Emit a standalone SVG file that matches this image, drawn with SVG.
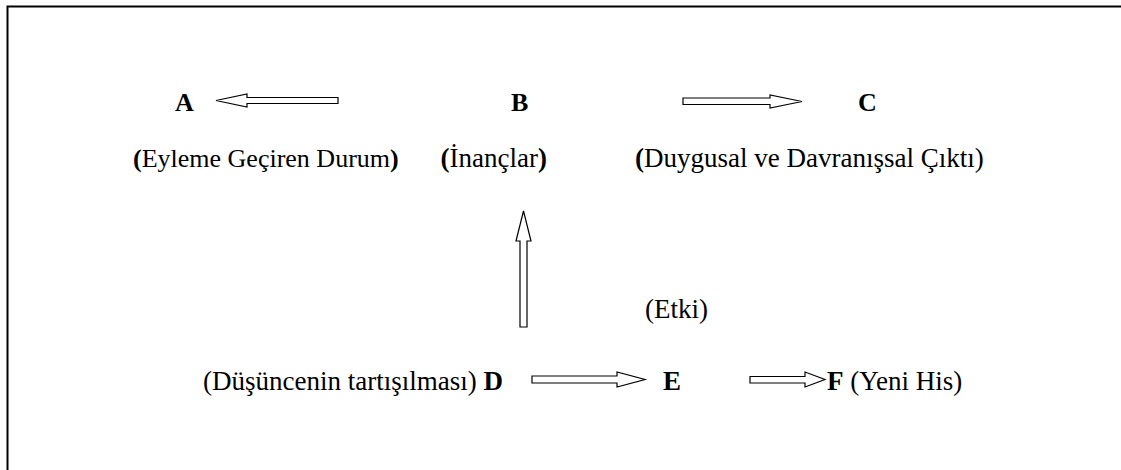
<svg xmlns="http://www.w3.org/2000/svg" width="1121" height="470" viewBox="0 0 1121 470">
<style>
.b{font-weight:bold}
.arrow{fill:#fff;stroke:#000;stroke-width:1.2}
.frame{fill:none;stroke:#000;stroke-width:2}
</style>
<rect width="1121" height="470" fill="#fff"/>
<path class="frame" d="M7.5,472 V6.5 H1123"/>
<g font-family="'Liberation Serif', 'Times New Roman', serif" font-size="27" fill="#000">
<g id="nodeA">
<text x="175" y="111" class="b" font-size="26">A</text>
<text x="133" y="167" font-size="26"><tspan class="b">(</tspan>Eyleme Geçiren Durum<tspan class="b">)</tspan></text>
</g>
<g id="nodeB">
<text x="511" y="111" class="b" font-size="26">B</text>
<text x="547" y="167" text-anchor="end"><tspan class="b">(</tspan>İnançlar<tspan class="b">)</tspan></text>
</g>
<g id="nodeC">
<text x="858" y="111" class="b" font-size="26">C</text>
<text x="635" y="167"><tspan class="b">(</tspan>Duygusal ve Davranışsal Çıktı)</text>
</g>
<g id="nodeD">
<text x="503" y="390" text-anchor="end">(Düşüncenin tartışılması) <tspan class="b">D</tspan></text>
</g>
<g id="nodeE">
<text x="645" y="318">(Etki)</text>
<text x="663" y="390" class="b">E</text>
</g>
<g id="nodeF">
<text x="827" y="390"><tspan class="b">F</tspan> (Yeni His)</text>
</g>
</g>
<g id="connectors">
<polygon class="arrow" points="216,100.5 247,94 247,97.5 338,97.5 338,103.5 247,103.5 247,107"/>
<polygon class="arrow" points="683,98 770,98 770,95 802,101.5 770,108 770,104.5 683,104.5"/>
<polygon class="arrow" points="523.5,211 531,241 527,241 527,327 520,327 520,241 516,241"/>
<polygon class="arrow" points="532,376 617,376 617,372 645,379.5 617,387 617,383 532,383"/>
<polygon class="arrow" points="750,376.5 805,376.5 805,372 825,379.5 805,387 805,383 750,383"/>
</g>
</svg>
